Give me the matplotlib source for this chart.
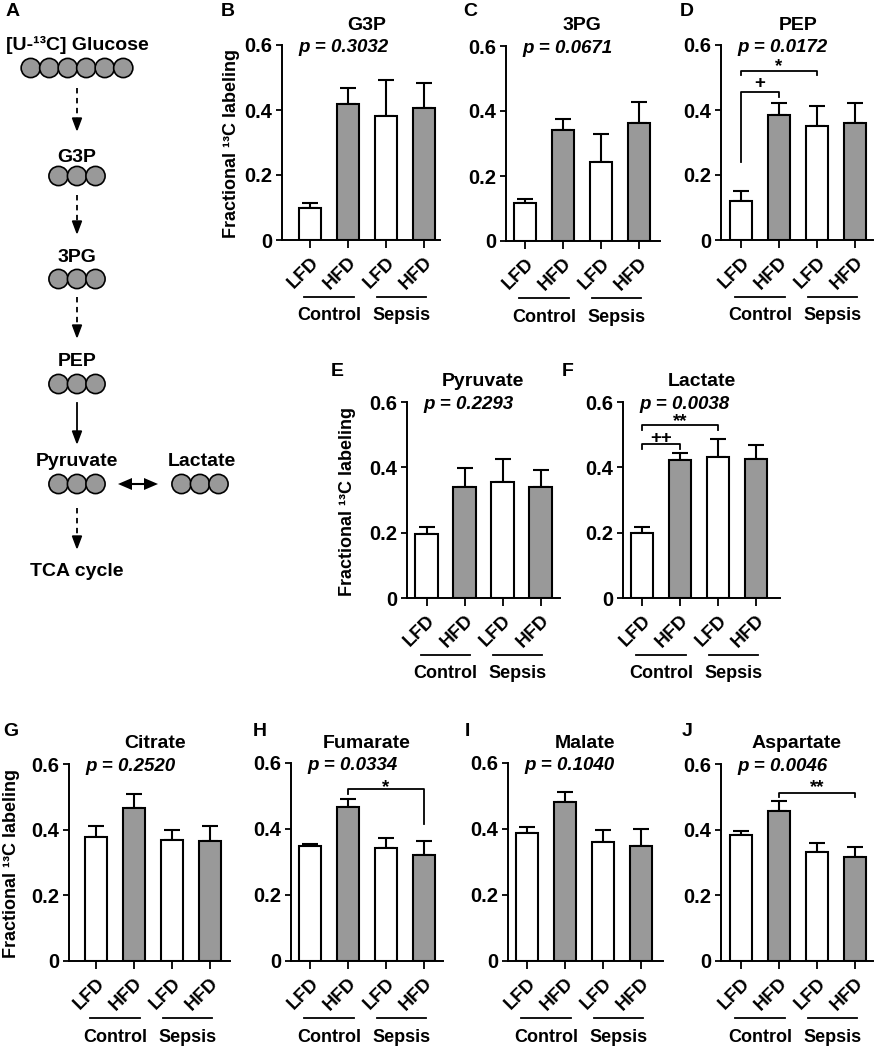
import matplotlib
matplotlib.use("Agg")
import matplotlib.pyplot as plt
from matplotlib.patches import Circle, Polygon
from matplotlib import transforms

plt.rcParams['font.family'] = ['Liberation Sans', 'DejaVu Sans']
plt.rcParams['font.weight'] = 'bold'

W, H = 876, 1049

# data
groups = ["LFD", "HFD", "LFD", "HFD"]
conditions = ["Control", "Sepsis"]
p_values = ["0.3032", "0.0671", "0.0172", "0.2293", "0.0038", "0.2520", "0.0334", "0.1040", "0.0046"]
metabolites = ["G3P", "3PG", "PEP", "Pyruvate", "Lactate", "Citrate", "Fumarate", "Malate", "Aspartate"]
letters = ["B", "C", "D", "E", "F", "G", "H", "I", "J"]

g3p_mean = [0.100, 0.418, 0.381, 0.407]
g3p_sem = [0.015, 0.051, 0.111, 0.075]
pg3_mean = [0.116, 0.343, 0.244, 0.363]
pg3_sem = [0.013, 0.032, 0.084, 0.065]
pep_mean = [0.119, 0.386, 0.352, 0.359]
pep_sem = [0.032, 0.037, 0.060, 0.062]
pyr_mean = [0.197, 0.341, 0.356, 0.341]
pyr_sem = [0.020, 0.058, 0.071, 0.052]
lac_mean = [0.200, 0.421, 0.433, 0.424]
lac_sem = [0.017, 0.024, 0.055, 0.045]
cit_mean = [0.378, 0.465, 0.368, 0.366]
cit_sem = [0.032, 0.043, 0.031, 0.046]
fum_mean = [0.350, 0.466, 0.343, 0.321]
fum_sem = [0.006, 0.025, 0.029, 0.044]
mal_mean = [0.387, 0.483, 0.360, 0.349]
mal_sem = [0.018, 0.030, 0.036, 0.052]
asp_mean = [0.383, 0.456, 0.331, 0.318]
asp_sem = [0.012, 0.030, 0.027, 0.030]

means = [g3p_mean, pg3_mean, pep_mean, pyr_mean, lac_mean, cit_mean, fum_mean, mal_mean, asp_mean]
sems = [g3p_sem, pg3_sem, pep_sem, pyr_sem, lac_sem, cit_sem, fum_sem, mal_sem, asp_sem]

# significance brackets: (x1, x2, bracket y, leg1 end, leg2 end, label, label baseline)
sig_marks = {
    "D": [(0, 1, 0.454, 0.239, 0.441, "+", 0.467), (0, 2, 0.521, 0.508, 0.508, "*", 0.521)],
    "F": [(0, 1, 0.471, 0.457, 0.457, "++", 0.473), (0, 2, 0.531, 0.515, 0.515, "**", 0.526)],
    "H": [(1, 3, 0.521, 0.506, 0.416, "*", 0.512)],
    "J": [(1, 3, 0.513, 0.501, 0.498, "**", 0.514)],
}

bar_colors = ["white", "#999999", "white", "#999999"]

# layout in pixels: axis left, axis right, y of 0, y of 0.6, first bar x
layout = {
    "B": (282, 440, 240, 45, 310),
    "C": (506, 660, 241, 46, 525),
    "D": (721, 873, 240, 45, 741),
    "E": (407, 560, 598, 402, 426.5),
    "F": (623, 780, 598, 402, 642),
    "G": (69, 230, 961, 764, 96),
    "H": (291, 443, 961, 763, 310),
    "I": (508, 663, 961, 763, 527),
    "J": (721, 873, 961, 764, 741),
}
title_pos = {"B": 367, "C": 582, "D": 798, "E": 483, "F": 702, "G": 155, "H": 367, "I": 585, "J": 797}
letter_pos = {"B": (228, 12), "C": (470, 11), "D": (687, 12), "E": (337, 371), "F": (568, 371),
              "G": (11, 731), "H": (260, 732), "I": (467, 732), "J": (687, 731)}
ylabel_pos = {"B": (232, 143), "E": (347, 501), "G": (12, 864)}
STEP = 38.0
FS = 13.5

fig = plt.figure(figsize=(W / 100, H / 100), dpi=100)
ov = fig.add_axes([0, 0, 1, 1])
ov.set_xlim(0, W)
ov.set_ylim(H, 0)
ov.axis('off')
ov.set_zorder(10)

for i, key in enumerate(letters):
    left, right, y0, y6, first = layout[key]
    ax = fig.add_axes([left / W, 1 - y0 / H, (right - left) / W, (y0 - y6) / H])
    ax.patch.set_alpha(0)
    x0 = -(first - left) / STEP
    ax.set_xlim(x0, x0 + (right - left) / STEP)
    ax.set_ylim(0, 0.6)
    xs = list(range(len(groups)))
    ax.errorbar(xs, means[i], yerr=[[0] * 4, sems[i]], fmt='none', ecolor='black',
                elinewidth=1.5, capsize=5.5, capthick=1.5, zorder=1)
    ax.bar(xs, means[i], width=0.6, color=bar_colors, edgecolor='black', linewidth=1.5, zorder=2)
    for s in ['top', 'right']:
        ax.spines[s].set_visible(False)
    for s in ['left', 'bottom']:
        ax.spines[s].set_linewidth(1.4)
    ax.set_yticks([0, 0.2, 0.4, 0.6])
    ax.set_yticklabels(["0", "0.2", "0.4", "0.6"], fontsize=14.5, fontweight='bold')
    ax.set_xticks(xs)
    ax.set_xticklabels(groups, fontsize=FS, fontweight='bold', rotation=45,
                       ha='right', va='top', rotation_mode='anchor')
    ax.tick_params(axis='y', length=4, width=1.3, pad=3)
    ax.tick_params(axis='x', length=6, width=1.3, pad=4)

    for (a, b, yb, l1, l2, lab, ly) in sig_marks.get(key, []):
        ax.plot([a, a, b, b], [l1, yb, yb, l2], color='black', lw=1.3, clip_on=False)
        ax.text((a + b) / 2, ly, lab, ha='center', va='baseline', fontsize=FS, fontweight='bold')

    # Control / Sepsis group lines
    tr = transforms.blended_transform_factory(ax.transData, ov.transData)
    for c, cx in zip(conditions, [0.5, 2.4]):
        ov.plot([cx - 0.65, cx + 0.65], [y0 + 57, y0 + 57], color='black', lw=1.3, transform=tr)
        ov.text(cx, y0 + 76, c, transform=tr, ha='center', va='center', fontsize=13, fontweight='bold')

    ov.text(title_pos[key], y6 - 20, metabolites[i], ha='center', va='center', fontsize=14, fontweight='bold')
    ov.text(left + 16, y6 + 7, "p = " + p_values[i], ha='left', va='baseline', fontsize=FS,
            fontweight='bold', fontstyle='italic')
    lx, ly = letter_pos[key]
    ov.text(lx, ly, key, ha='center', va='center', fontsize=14, fontweight='bold')
    if key in ylabel_pos:
        yx, yy = ylabel_pos[key]
        ov.text(yx, yy, "Fractional ¹³C labeling", rotation=90, ha='center', va='center',
                fontsize=13, fontweight='bold')

# panel A: pathway scheme
ov.text(13, 12, "A", ha='center', va='center', fontsize=14, fontweight='bold')
AX = 77
R = 9.6


def carbons(cx, cy, n):
    start = cx - (n - 1) * 18.5 / 2
    for k in range(n):
        ov.add_patch(Circle((start + k * 18.5, cy), R, facecolor='#999999', edgecolor='black', lw=1.2))


def arrow_down(x, ya, yb, dashed):
    ov.plot([x, x], [ya, yb - 10], color='black', lw=1.3, ls=(0, (3, 2.5)) if dashed else '-')
    ov.add_patch(Polygon([[x - 4.5, yb - 12], [x + 4.5, yb - 12], [x, yb]], closed=True,
                         facecolor='black', edgecolor='black'))


ov.text(AX, 45, "[U-¹³C] Glucose", ha='center', va='center', fontsize=14, fontweight='bold')
carbons(AX, 68, 6)
arrow_down(AX, 88, 130, True)
ov.text(AX, 157, "G3P", ha='center', va='center', fontsize=14, fontweight='bold')
carbons(AX, 176, 3)
arrow_down(AX, 195, 233, True)
ov.text(AX, 258, "3PG", ha='center', va='center', fontsize=14, fontweight='bold')
carbons(AX, 279, 3)
arrow_down(AX, 297, 337, True)
ov.text(AX, 362, "PEP", ha='center', va='center', fontsize=14, fontweight='bold')
carbons(AX, 384, 3)
arrow_down(AX, 403, 443, False)
ov.text(AX, 462, "Pyruvate", ha='center', va='center', fontsize=14, fontweight='bold')
carbons(AX, 484, 3)
ov.text(202, 462, "Lactate", ha='center', va='center', fontsize=14, fontweight='bold')
carbons(200, 484, 3)
ov.plot([128, 148], [484, 484], color='black', lw=1.5)
ov.add_patch(Polygon([[118, 484], [132, 478], [132, 490]], closed=True, facecolor='black'))
ov.add_patch(Polygon([[158, 484], [144, 478], [144, 490]], closed=True, facecolor='black'))
arrow_down(AX, 508, 548, True)
ov.text(AX, 572, "TCA cycle", ha='center', va='center', fontsize=14, fontweight='bold')

fig.savefig("out.png", dpi=100)
